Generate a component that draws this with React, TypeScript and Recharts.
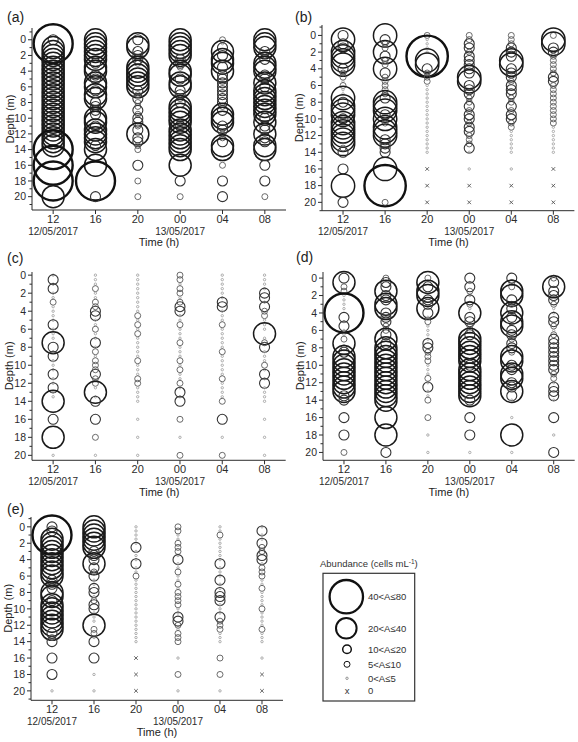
import React from 'react';
import { ScatterChart, Scatter, XAxis, YAxis } from 'recharts';

const FONT = '"Liberation Sans", Arial, Helvetica, sans-serif';
const INK = '#2b2b2b';

// Sampling depths (m)
const DEPTHS = [0, 0.5, 1, 1.5, 2, 2.5, 3, 3.5, 4, 4.5, 5, 5.5, 6, 6.5, 7, 7.5, 8, 8.5, 9, 9.5, 10, 10.5, 11, 11.5, 12, 12.5, 13, 13.5, 14, 16, 18, 20];
// Sampling times (category index 0..5)
const HOUR_TICKS = [0, 1, 2, 3, 4, 5];
const HOUR_LABELS = ['12', '16', '20', '00', '04', '08'];
const DATE_LABELS = ['12/05/2017', '', '', '13/05/2017', '', ''];
// Abundance classes: 0 = 0, 1 = 0<A≤5, 2 = 5<A≤10, 3 = 10<A≤20, 4 = 20<A≤40, 5 = 40<A≤80
const CLASS_LABELS = ['0', '0<A≤5', '5<A≤10', '10<A≤20', '20<A≤40', '40<A≤80'];

// Each row: one sampling time; values follow DEPTHS
const panelA = [
  [3,5,4,4, 4,4,4,4, 4,4,4,4, 4,4,4,4, 4,4,4,4, 4,4,4,4, 4,4,4,4, 5,5,5,4],
  [4,4,4,4, 4,4,3,4, 4,3,3,4, 4,3,4,4, 3,3,3,3, 4,4,3,4, 4,4,4,3, 4,4,5,3],
  [3,4,4,3, 3,3,2,4, 4,4,4,4, 4,3,2,3, 2,2,3,2, 3,3,2,3, 4,3,3,2, 2,3,2,2],
  [4,4,4,4, 4,3,3,2, 4,4,3,4, 4,3,3,2, 3,4,4,4, 4,4,3,4, 4,4,4,4, 4,4,3,2],
  [2,1,3,4, 3,4,4,3, 4,3,3,3, 3,3,3,3, 3,2,3,4, 4,4,3,3, 2,2,3,4, 4,2,3,3],
  [4,4,4,3, 2,3,4,4, 4,3,3,4, 3,4,4,4, 4,4,4,4, 3,4,3,3, 4,3,3,4, 4,3,3,2],
];
const panelB = [
  [3,4,3,3, 4,4,4,4, 3,2,2,1, 2,1,1,4, 3,4,4,4, 3,4,4,4, 4,4,4,2, 3,3,4,3],
  [4,3,2,2, 4,3,2,2, 4,3,2,2, 2,2,2,3, 4,4,4,3, 4,2,4,4, 4,3,3,3, 3,4,5,2],
  [2,1,1,1, 1,5,4,4, 3,2,2,2, 1,1,1,1, 1,1,1,1, 1,1,1,1, 1,1,1,1, 1,0,0,0],
  [2,2,3,3, 2,3,3,3, 3,3,4,4, 3,3,3,2, 2,3,2,3, 3,2,3,3, 2,2,2,3, 1,1,0,0],
  [2,2,2,3, 3,3,4,4, 3,3,3,2, 3,3,3,2, 2,3,2,3, 3,2,2,1, 1,1,1,1, 1,1,0,0],
  [2,4,4,3, 3,2,2,2, 2,2,3,3, 2,2,2,2, 2,2,2,2, 2,2,1,1, 1,1,1,1, 1,0,0,0],
];
const panelC = [
  [1,3,1,3, 1,1,2,1, 1,1,1,3, 1,1,1,4, 3,1,3,1, 1,1,3,1, 1,3,1,1, 4,3,4,1],
  [1,1,1,2, 1,1,2,2, 3,3,1,1, 2,1,1,3, 1,2,1,2, 2,2,3,2, 2,1,4,1, 3,3,2,1],
  [1,1,1,1, 1,1,1,1, 1,2,1,2, 1,2,1,1, 1,1,1,2, 1,1,1,2, 2,1,1,1, 1,1,1,1],
  [2,2,1,2, 2,1,2,3, 3,1,1,2, 1,1,1,2, 1,1,1,2, 1,2,1,1, 2,1,3,1, 3,2,1,2],
  [1,1,1,1, 1,1,3,3, 1,1,1,2, 1,1,1,1, 1,2,1,1, 1,1,1,2, 1,1,1,1, 2,3,1,2],
  [1,1,1,1, 3,3,1,3, 2,2,1,1, 1,4,1,2, 3,1,1,1, 2,1,3,1, 3,1,1,1, 1,1,1,1],
];
const panelD = [
  [3,4,2,2, 1,1,1,1, 5,3,1,3, 1,1,2,4, 2,3,4,4, 4,4,4,4, 4,4,4,3, 3,3,3,2],
  [2,3,3,4, 3,3,4,4, 3,3,3,2, 2,3,4,3, 4,4,4,4, 4,4,4,4, 4,4,4,4, 4,4,4,3],
  [2,4,3,4, 4,3,3,4, 3,1,2,1, 1,1,1,3, 3,2,2,2, 1,1,1,2, 1,3,1,1, 2,2,1,1],
  [3,1,3,2, 1,3,2,1, 4,3,3,2, 2,3,4,4, 4,4,4,4, 3,4,4,4, 4,4,4,4, 3,3,3,1],
  [3,2,2,4, 4,3,2,3, 4,3,4,4, 3,3,2,3, 3,2,4,4, 3,3,4,4, 3,3,4,3, 1,1,4,1],
  [2,3,4,3, 3,3,2,1, 1,3,3,2, 1,2,3,3, 3,3,3,3, 3,3,2,2, 1,3,3,3, 1,3,1,3],
];
const panelE = [
  [3,3,5,4, 4,4,4,4, 4,4,4,4, 4,3,3,3, 4,4,3,4, 4,4,4,4, 4,4,3,2, 3,3,3,1],
  [4,4,4,4, 4,4,3,3, 3,4,3,2, 3,1,1,3, 3,1,2,3, 3,1,1,1, 4,2,2,1, 3,3,1,1],
  [1,1,1,1, 1,3,1,1, 1,3,1,1, 2,1,1,1, 1,1,1,1, 1,1,1,1, 1,1,1,1, 1,0,0,0],
  [2,2,1,1, 2,2,2,1, 3,1,1,2, 1,1,2,1, 2,2,2,2, 1,1,3,3, 2,1,2,2, 2,1,2,1],
  [1,1,2,1, 1,1,1,1, 1,3,1,1, 1,3,1,1, 3,3,3,1, 1,1,3,2, 2,2,1,1, 1,2,2,1],
  [1,3,1,1, 3,2,2,3, 3,1,2,2, 2,1,1,2, 1,1,1,1, 2,1,1,1, 1,2,1,1, 1,1,0,0],
];

// Marker styles per class
const RADII = [0, 1.2, 3, 5, 11, 19.5];
const STROKE_W = [0.9, 0.8, 0.9, 1.1, 1.5, 2.4];
const STROKE_C = ['#555', '#9a9a9a', '#5a5a5a', '#333', '#1a1a1a', '#111'];

type PanelCfg = {
  key: string;
  title: string;
  cols: number[][];
  plotLeft: number;
  plotTop: number;
  plotRight: number;
  plotBottom: number;
  yDomain: [number, number];
  rScale: number;
  titleX: number;
  titleY: number;
  depthX: number;
};

const PANELS: PanelCfg[] = [
  { key: 'a', title: '(a)', cols: panelA, plotLeft: 32, plotTop: 28, plotRight: 286, plotBottom: 210, yDomain: [-1.5, 21.7], rScale: 1, titleX: 7, titleY: 22, depthX: 10 },
  { key: 'b', title: '(b)', cols: panelB, plotLeft: 322.3, plotTop: 25, plotRight: 574.7, plotBottom: 210.7, yDomain: [-1.25, 21], rScale: 1.06, titleX: 295, titleY: 22, depthX: 299 },
  { key: 'c', title: '(c)', cols: panelC, plotLeft: 32.3, plotTop: 271.7, plotRight: 286, plotBottom: 460, yDomain: [-0.35, 20.55], rScale: 1, titleX: 7, titleY: 263, depthX: 9 },
  { key: 'd', title: '(d)', cols: panelD, plotLeft: 323, plotTop: 271.7, plotRight: 574.7, plotBottom: 460, yDomain: [-0.7, 20.9], rScale: 1, titleX: 296, titleY: 262, depthX: 300 },
  { key: 'e', title: '(e)', cols: panelE, plotLeft: 31, plotTop: 516.7, plotRight: 283, plotBottom: 700, yDomain: [-1.2, 21.15], rScale: 1, titleX: 7, titleY: 514, depthX: 8 },
];

function buildPoints(cols: number[][]) {
  const pts: { x: number; y: number; c: number }[] = [];
  cols.forEach((col, xi) => {
    col.forEach((c, di) => {
      pts.push({ x: HOUR_TICKS[xi], y: DEPTHS[di], c });
    });
  });
  return pts;
}

function makeShape(scale: number) {
  return (props: any) => {
    const { cx, cy, payload } = props;
    if (cx == null || cy == null) return <g />;
    const c = payload.c as number;
    if (c === 0) {
      const s = 1.8;
      return (
        <g stroke={STROKE_C[0]} strokeWidth={STROKE_W[0]}>
          <line x1={cx - s} y1={cy - s} x2={cx + s} y2={cy + s} />
          <line x1={cx - s} y1={cy + s} x2={cx + s} y2={cy - s} />
        </g>
      );
    }
    const r = RADII[c] * (c >= 4 ? scale : 1);
    return <circle cx={cx} cy={cy} r={r} fill="none" stroke={STROKE_C[c]} strokeWidth={STROKE_W[c]} />;
  };
}

function XTick(props: any) {
  const { x, y, payload } = props;
  const v = payload.value as number;
  return (
    <g>
      <line x1={x} x2={x} y1={y} y2={y + 4} stroke={INK} strokeWidth={1} />
      <text x={x} y={y + 12.5} textAnchor="middle" fontSize={11} fontFamily={FONT} fill={INK}>
        {HOUR_LABELS[v]}
      </text>
      {DATE_LABELS[v] ? (
        <text x={x} y={y + 24.5} textAnchor="middle" fontSize={10} fontFamily={FONT} fill={INK}>
          {DATE_LABELS[v]}
        </text>
      ) : null}
    </g>
  );
}

function YTick(props: any) {
  const { x, y, payload } = props;
  const v = payload.value as number;
  const major = v % 2 === 0;
  return (
    <g>
      <line x1={x} x2={x - (major ? 4 : 2.5)} y1={y} y2={y} stroke={INK} strokeWidth={1} />
      {major && v >= 0 && v <= 20 ? (
        <text x={x - 6} y={y} dy="0.35em" textAnchor="end" fontSize={10.5} fontFamily={FONT} fill={INK}>
          {v}
        </text>
      ) : null}
    </g>
  );
}

function Panel({ cfg }: { cfg: PanelCfg }) {
  const mTop = 16;
  const yAxisW = 32;
  const xAxisH = 30;
  const mRight = 3;
  const chartLeft = cfg.plotLeft - yAxisW;
  const chartTop = cfg.plotTop - mTop;
  const width = cfg.plotRight - chartLeft + mRight;
  const height = mTop + (cfg.plotBottom - cfg.plotTop) + xAxisH;
  const points = buildPoints(cfg.cols);
  const yTicks: number[] = [];
  for (let v = Math.ceil(cfg.yDomain[0]); v <= Math.floor(cfg.yDomain[1]); v++) yTicks.push(v);
  return (
    <div style={{ position: 'absolute', left: chartLeft, top: chartTop }}>
      <ScatterChart width={width} height={height} margin={{ top: mTop, right: mRight, bottom: 0, left: 0 }}>
        <XAxis
          type="number"
          dataKey="x"
          domain={[-0.5, 5.5]}
          ticks={HOUR_TICKS}
          interval={0}
          tickSize={0}
          tickMargin={0}
          tickLine={false}
          axisLine={{ stroke: INK, strokeWidth: 1 }}
          height={xAxisH}
          tick={(p: any) => <XTick {...p} />}
        />
        <YAxis
          type="number"
          dataKey="y"
          reversed
          domain={cfg.yDomain}
          ticks={yTicks}
          interval={0}
          tickSize={0}
          tickMargin={0}
          tickLine={false}
          axisLine={{ stroke: INK, strokeWidth: 1 }}
          width={yAxisW}
          tick={(p: any) => <YTick {...p} />}
        />
        <Scatter data={points} isAnimationActive={false} shape={makeShape(cfg.rScale)} />
      </ScatterChart>
    </div>
  );
}

function Legend() {
  const cx = 347;
  const items = [
    { c: 5, y: 596.7, r: 16.7, w: 2.3 },
    { c: 4, y: 628.3, r: 10.3, w: 2.0 },
    { c: 3, y: 649.3, r: 4.3, w: 1.5 },
    { c: 2, y: 664.3, r: 3, w: 1.0 },
    { c: 1, y: 678.3, r: 1.2, w: 0.9 },
    { c: 0, y: 690.7, r: 0, w: 0.9 },
  ];
  return (
    <g fontFamily={FONT}>
      <text x={320} y={567} fontSize={9.5} fill="#333">
        Abundance (cells mL
        <tspan dy={-3.5} fontSize={6.5}>-1</tspan>
        <tspan dy={3.5}>)</tspan>
      </text>
      <rect x={323} y={573.3} width={91.7} height={127.7} fill="none" stroke="#333" strokeWidth={1.2} />
      {items.map((it) => (
        <g key={it.c}>
          {it.c === 0 ? (
            <text x={cx} y={it.y} dy="0.3em" textAnchor="middle" fontSize={9.5} fill="#333">x</text>
          ) : (
            <circle cx={it.c >= 4 ? cx - 0.7 : cx} cy={it.y} r={it.r} fill="none" stroke={it.c === 1 ? '#888' : '#111'} strokeWidth={it.w} />
          )}
          <text x={368} y={it.y} dy="0.35em" fontSize={9.5} fill="#333">
            {CLASS_LABELS[it.c]}
          </text>
        </g>
      ))}
    </g>
  );
}

export default function App() {
  return (
    <div style={{ position: 'absolute', left: 0, top: 0, width: 578, height: 742, background: '#fff', overflow: 'hidden' }}>
      {PANELS.map((p) => (
        <Panel key={p.key} cfg={p} />
      ))}
      <svg width={578} height={742} style={{ position: 'absolute', left: 0, top: 0, pointerEvents: 'none' }}>
        {PANELS.map((p) => {
          const midY = (p.plotTop + p.plotBottom) / 2;
          const midX = (p.plotLeft + p.plotRight) / 2;
          return (
            <g key={p.key} fontFamily={FONT} fill="#222">
              <text x={p.titleX} y={p.titleY} fontSize={14}>{p.title}</text>
              <text x={p.depthX} y={midY} fontSize={11} textAnchor="middle" dy="0.35em" transform={`rotate(-90 ${p.depthX} ${midY})`}>
                Depth (m)
              </text>
              <text x={midX} y={p.plotBottom + 35.6} fontSize={11} textAnchor="middle">Time (h)</text>
            </g>
          );
        })}
        <Legend />
      </svg>
    </div>
  );
}
